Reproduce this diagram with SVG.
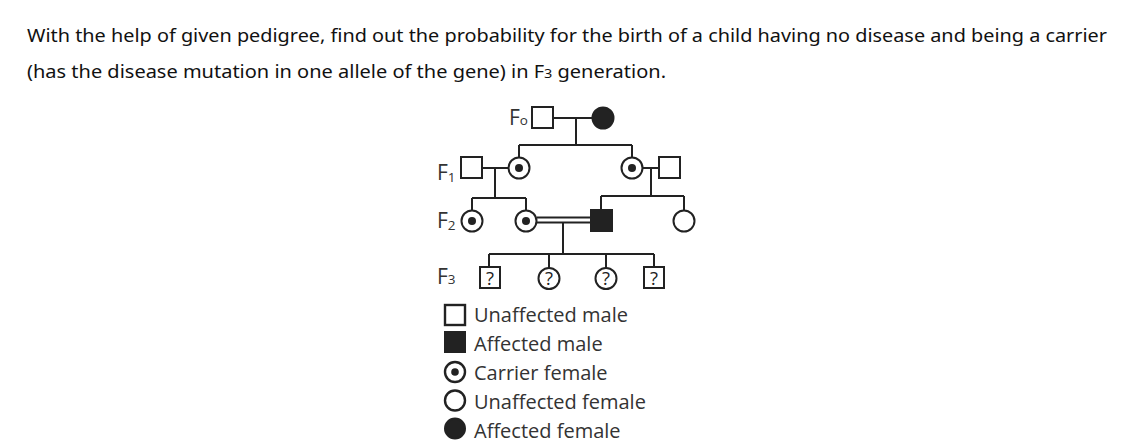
<svg xmlns="http://www.w3.org/2000/svg" width="1146" height="448" viewBox="0 0 1146 448">
<style>
.t{font-family:"Noto Sans","Open Sans","Liberation Sans",sans-serif;font-size:18px;fill:#111}
.s{fill:#fff;stroke:#222;stroke-width:2}
.f{fill:#222;stroke:#222;stroke-width:2}
.d{fill:#222}
.ln{stroke:#222;stroke-width:2;fill:none}
.g{font-family:"Open Sans","Noto Sans",sans-serif;font-size:21px;fill:#333}
.gs{font-size:13.5px}
.q{font-family:"Open Sans","Noto Sans",sans-serif;font-size:18.5px;fill:#222;text-anchor:middle}
.lg{font-family:"Open Sans","Noto Sans",sans-serif;font-size:20px;fill:#333}
.ls{fill:#fff;stroke:#222;stroke-width:2.4}
</style>
<rect width="1146" height="448" fill="#fff"/>
<g id="title">
<text class="t" x="27" y="42" textLength="1080" lengthAdjust="spacingAndGlyphs">With the help of given pedigree, find out the probability for the birth of a child having no disease and being a carrier</text>
<text class="t" x="27" y="78" textLength="639" lengthAdjust="spacingAndGlyphs">(has the disease mutation in one allele of the gene) in F<tspan font-size="13">3</tspan> generation.</text>
</g>
<g id="gen-labels">
<text class="g" x="509" y="125">F<tspan class="gs">o</tspan></text>
<text class="g" x="437" y="180">F<tspan class="gs" dy="2">1</tspan></text>
<text class="g" x="437" y="228">F<tspan class="gs" dy="2">2</tspan></text>
<text class="g" x="437" y="284">F<tspan class="gs">3</tspan></text>
</g>
<g id="connectors">
<path class="ln" d="M553 118H592M576 118V145M519 145H632M519 145V157M632 145V157"/>
<path class="ln" d="M482 168H508M495 168V198M472 198H526M472 198V210M526 198V210"/>
<path class="ln" d="M643 168H659M651 168V196M601 196H684M601 196V210M684 196V210"/>
<path class="ln" d="M537 217.5H591M537 222.5H591M563 223V254M489 254H654M489 254V267M549 254V268M606 254V268M654 254V267"/>
</g>
<g id="F0-male"><rect class="s" x="532" y="107" width="21" height="21"/></g>
<g id="F0-female"><circle class="f" cx="603" cy="118" r="10.5"/></g>
<g id="F1-male-left"><rect class="s" x="461" y="157" width="21" height="21"/></g>
<g id="F1-female-left"><circle class="s" cx="519" cy="168" r="10.5"/><circle class="d" cx="519" cy="168" r="4"/></g>
<g id="F1-female-right"><circle class="s" cx="632" cy="168" r="10.5"/><circle class="d" cx="632" cy="168" r="4"/></g>
<g id="F1-male-right"><rect class="s" x="659" y="157" width="21" height="21"/></g>
<g id="F2-female-1"><circle class="s" cx="472" cy="221" r="10.5"/><circle class="d" cx="472" cy="221" r="4"/></g>
<g id="F2-female-2"><circle class="s" cx="526" cy="221" r="10.5"/><circle class="d" cx="526" cy="221" r="4"/></g>
<g id="F2-male"><rect class="f" x="591" y="210" width="21" height="21"/></g>
<g id="F2-female-3"><circle class="s" cx="684" cy="221" r="10.5"/></g>
<g id="F3-1"><rect class="s" x="480" y="267" width="20" height="21"/><text class="q" x="490" y="284.5">?</text></g>
<g id="F3-2"><circle class="s" cx="549" cy="278.5" r="10.5"/><text class="q" x="549" y="285">?</text></g>
<g id="F3-3"><circle class="s" cx="606" cy="278.5" r="10.5"/><text class="q" x="606" y="285">?</text></g>
<g id="F3-4"><rect class="s" x="644" y="267" width="20" height="21"/><text class="q" x="654" y="284.5">?</text></g>
<g id="legend">
<rect class="ls" x="445" y="305" width="20" height="20"/>
<text class="lg" x="474" y="322">Unaffected male</text>
<rect class="f" x="445" y="332" width="20" height="20"/>
<text class="lg" x="474" y="351">Affected male</text>
<circle class="ls" cx="455" cy="372" r="10"/><circle class="d" cx="455" cy="372" r="3.8"/>
<text class="lg" x="474" y="380">Carrier female</text>
<circle class="ls" cx="455" cy="400.5" r="10"/>
<text class="lg" x="474" y="409">Unaffected female</text>
<circle class="f" cx="455" cy="428.5" r="10"/>
<text class="lg" x="474" y="438">Affected female</text>
</g>
</svg>
